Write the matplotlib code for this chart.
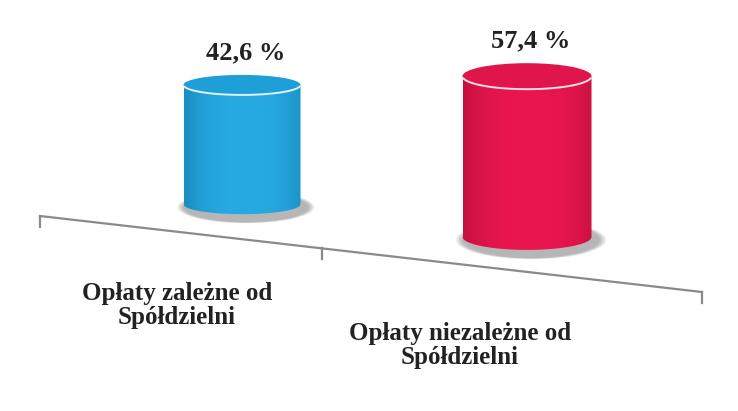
import numpy as np
import matplotlib
matplotlib.use("Agg")
import matplotlib.pyplot as plt
from matplotlib.path import Path
from matplotlib.patches import PathPatch, Ellipse

# data
categories = ["Opłaty zależne od\nSpółdzielni", "Opłaty niezależne od\nSpółdzielni"]
values = [42.6, 57.4]
value_labels = ["42,6 %", "57,4 %"]

# styles / layout (pixel space of the 738x411 picture)
colors = ["#27A9E1", "#E9164F"]
dark_colors = ["#1B8FC4", "#C8103F"]
top_colors = ["#1F9FD8", "#E0154B"]
centers_x = [242, 527]
widths = [117, 129]
ell_h = [20, 26]
px_per_unit = 2.8
line_x0, line_y0, line_x1, line_y1 = 40, 216, 702, 292
base_lift = 35

fig = plt.figure(figsize=(7.38, 4.11), dpi=100)
ax = fig.add_axes([0, 0, 1, 1])
ax.set_xlim(0, 738)
ax.set_ylim(411, 0)
ax.axis("off")


def line_y(x):
    return line_y0 + (x - line_x0) * (line_y1 - line_y0) / (line_x1 - line_x0)


def cylinder(cx, w, eh, height, col, dcol, tcol):
    yb = line_y(cx) - base_lift
    yt = yb - height
    a, b = w / 2, eh / 2
    # shadow under the base
    for k in range(6):
        s = 1 + k * 0.02
        ax.add_patch(Ellipse((cx + 4, yb + 3), w * s + 8, eh * s + 10,
                             facecolor="#6a6a6a", edgecolor="none", alpha=0.1, zorder=1))
    # body outline: bottom front arc then top front arc
    tb = np.linspace(np.pi, 0, 60)
    barc = np.column_stack([cx + a * np.cos(tb), yb + b * np.sin(tb)])
    tt = np.linspace(0, np.pi, 60)
    tarc = np.column_stack([cx + a * np.cos(tt), yt + b * np.sin(tt)])
    verts = np.vstack([barc, tarc, barc[:1]])
    patch = PathPatch(Path(verts, closed=True), facecolor="none", edgecolor="none", zorder=2)
    ax.add_patch(patch)
    # horizontal shading
    c1 = np.array(matplotlib.colors.to_rgb(col))
    c2 = np.array(matplotlib.colors.to_rgb(dcol))
    xs = np.linspace(-1, 1, 200)
    f = np.clip(np.abs(xs - 0.05) ** 3, 0, 1)[None, :, None]
    grad = c1 * (1 - f) + c2 * f
    im = ax.imshow(np.repeat(grad, 2, axis=0), extent=(cx - a, cx + a, yb + b + 1, yt - 1),
                   aspect="auto", zorder=2, interpolation="bilinear")
    im.set_clip_path(patch)
    # top ellipse + light rim
    ax.add_patch(Ellipse((cx, yt), w, eh, facecolor=tcol, edgecolor="none", zorder=3))
    tr = np.linspace(0.05 * np.pi, 0.95 * np.pi, 60)
    ax.plot(cx + a * np.cos(tr), yt + b * np.sin(tr), color="white", lw=1.4, alpha=0.85,
            zorder=4, solid_capstyle="round")
    return yt - b


font = dict(family=["Liberation Serif", "DejaVu Serif"], weight="bold", color="#222222")

for i, v in enumerate(values):
    top = cylinder(centers_x[i], widths[i], ell_h[i], v * px_per_unit,
                   colors[i], dark_colors[i], top_colors[i])
    ax.text(centers_x[i] + 4, top - 22, value_labels[i], ha="center", va="center",
            fontsize=19, **font)

# axis
ax.plot([line_x0, line_x1], [line_y0, line_y1], color="#8a8a8a", lw=1.6, zorder=1)
for tx in [line_x0, 322, line_x1]:
    ax.plot([tx, tx], [line_y(tx), line_y(tx) + 11], color="#8a8a8a", lw=1.6, zorder=1)

label_pos = [(177, 293), (460, 333)]
for (lx, ly), cat in zip(label_pos, categories):
    for j, part in enumerate(cat.split("\n")):
        ax.text(lx, ly + j * 24, part, ha="center", va="center", fontsize=18, **font)

fig.savefig("out.png", dpi=100)
